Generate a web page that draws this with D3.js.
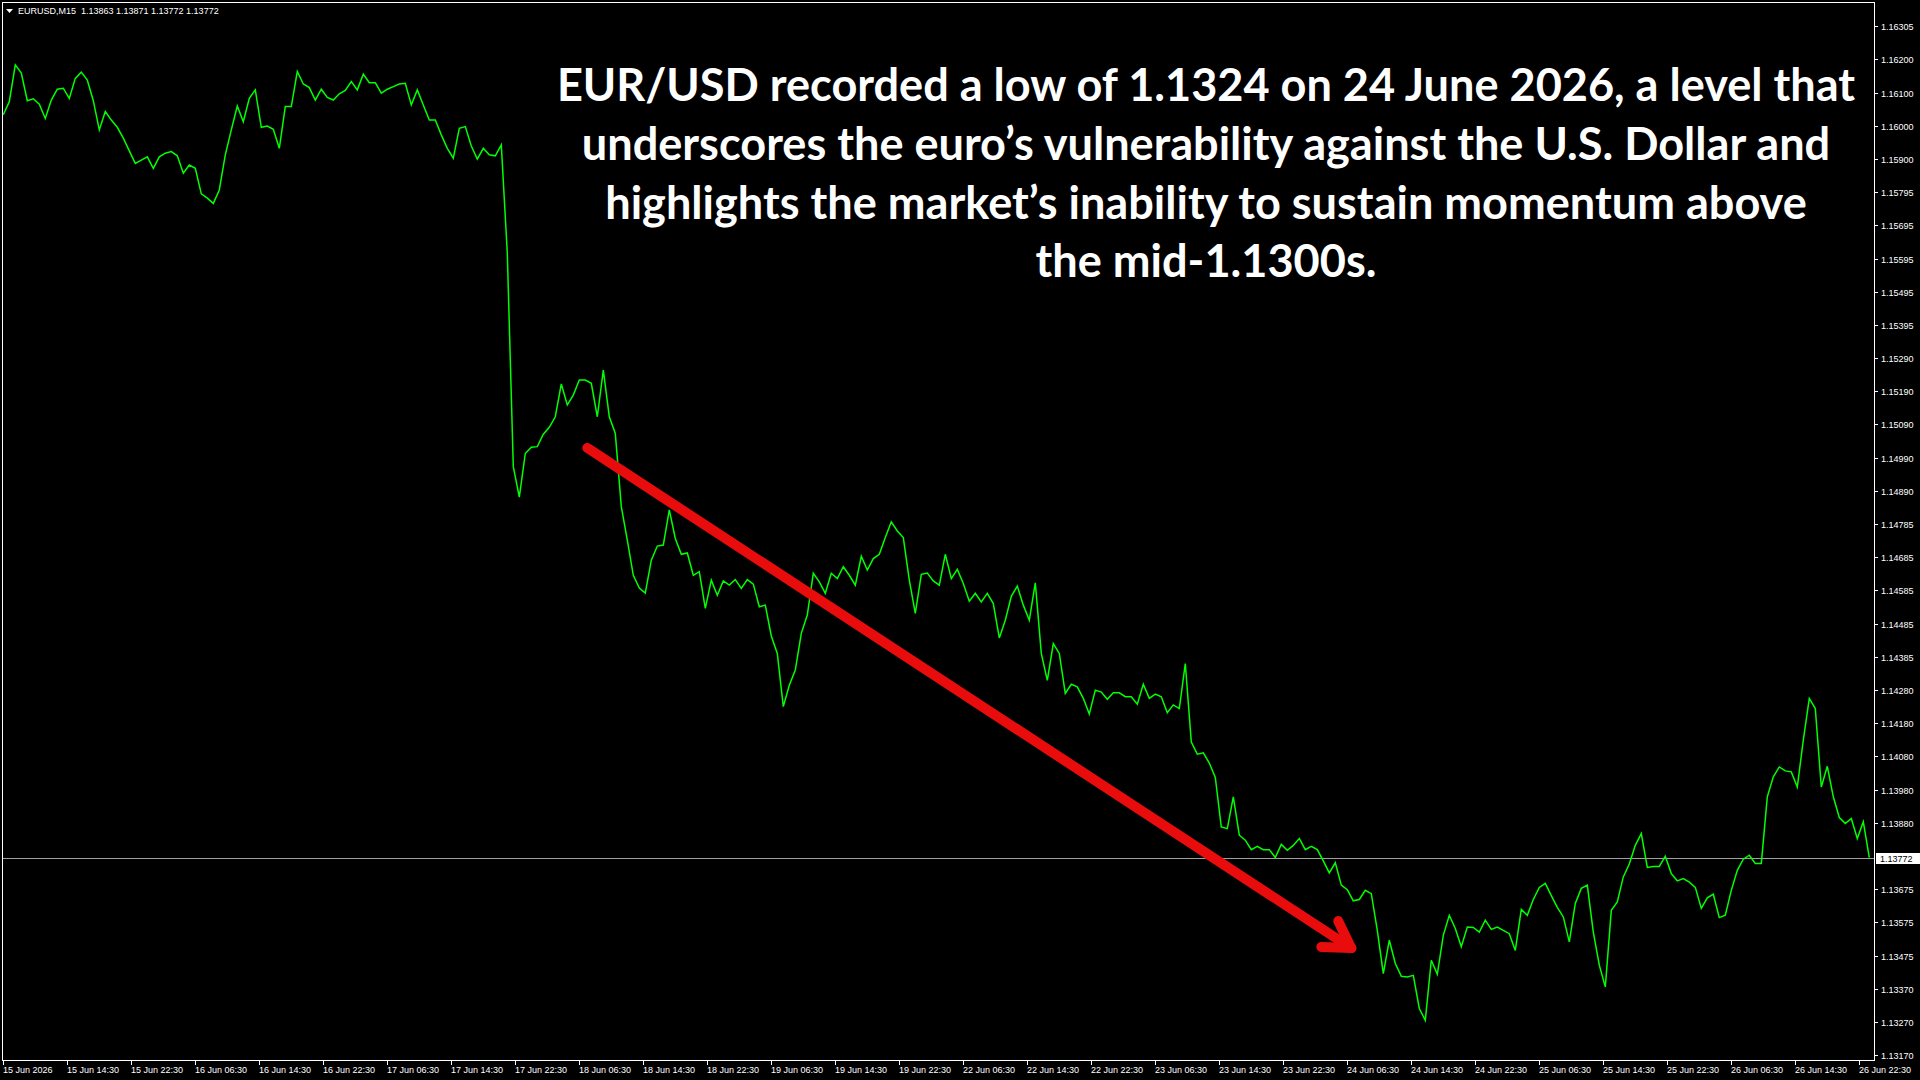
<!DOCTYPE html>
<html>
<head>
<meta charset="utf-8">
<script src="https://cdn.jsdelivr.net/npm/d3@7/dist/d3.min.js"></script>
<style>
  html, body { margin: 0; padding: 0; background: #000; }
  svg { display: block; }
</style>
</head>
<body>
<div id="chart"></div>
<script>
// ---- data ----
var symbolInfo = "EURUSD,M15  1.13863 1.13871 1.13772 1.13772";
var lastPrice = 1.13772;
var barsPerSample = 3;   // one close every 3 bars of M15
var barsPerLabel = 32;   // time label every 8 hours

var closes = [
  1.16035, 1.16075, 1.16187, 1.16162, 1.16078, 1.16084, 1.16067, 1.16024, 1.16080, 1.16113,
  1.16116, 1.16085, 1.16146, 1.16165, 1.16141, 1.16078, 1.15989, 1.16045, 1.16019, 1.15997,
  1.15964, 1.15925, 1.15887, 1.15897, 1.15907, 1.15872, 1.15907, 1.15918, 1.15923, 1.15910,
  1.15857, 1.15882, 1.15872, 1.15794, 1.15781, 1.15765, 1.15806, 1.15913, 1.15989, 1.16062,
  1.16014, 1.16085, 1.16111, 1.15997, 1.16001, 1.15991, 1.15933, 1.16060, 1.16060, 1.16167,
  1.16129, 1.16118, 1.16080, 1.16113, 1.16088,
  1.16080, 1.16099, 1.16109, 1.16136, 1.16111, 1.16159, 1.16133, 1.16133, 1.16101, 1.16113,
  1.16121, 1.16129, 1.16131, 1.16065, 1.16111, 1.16065, 1.16019, 1.16019, 1.15974, 1.15933,
  1.15903, 1.15994, 1.15999, 1.15940, 1.15900, 1.15933, 1.15913, 1.15910, 1.15943, 1.15613,
  1.14963, 1.14870, 1.15003, 1.15022, 1.15024, 1.15062, 1.15083, 1.15115, 1.15215, 1.15151,
  1.15181, 1.15227, 1.15227, 1.15217, 1.15115, 1.15257, 1.15115, 1.15064, 1.14841, 1.14739,
  1.14632, 1.14593, 1.14578,
  1.14678, 1.14721, 1.14724, 1.14831, 1.14744, 1.14696, 1.14700, 1.14632, 1.14643, 1.14531,
  1.14617, 1.14571, 1.14615, 1.14602, 1.14619, 1.14592, 1.14619, 1.14605, 1.14536, 1.14541,
  1.14447, 1.14394, 1.14232, 1.14297, 1.14343, 1.14455, 1.14511, 1.14638, 1.14612, 1.14577,
  1.14638, 1.14622, 1.14658, 1.14632, 1.14602, 1.14690, 1.14648, 1.14683, 1.14696, 1.14747,
  1.14795, 1.14767, 1.14747, 1.14617, 1.14516, 1.14635, 1.14639, 1.14615, 1.14602, 1.14696,
  1.14622, 1.14650, 1.14607, 1.14553,
  1.14577, 1.14551, 1.14577, 1.14546, 1.14441, 1.14495, 1.14568, 1.14599, 1.14541, 1.14495,
  1.14609, 1.14394, 1.14312, 1.14424, 1.14394, 1.14272, 1.14300, 1.14292, 1.14257, 1.14209,
  1.14282, 1.14276, 1.14254, 1.14274, 1.14274, 1.14262, 1.14262, 1.14239, 1.14300, 1.14257,
  1.14270, 1.14262, 1.14213, 1.14237, 1.14226, 1.14363, 1.14124, 1.14087, 1.14091, 1.14060,
  1.14016, 1.13865, 1.13860, 1.13957, 1.13840, 1.13825, 1.13796, 1.13806, 1.13796, 1.13796,
  1.13772, 1.13812, 1.13794,
  1.13809, 1.13830, 1.13796, 1.13806, 1.13796, 1.13762, 1.13725, 1.13756, 1.13688, 1.13674,
  1.13640, 1.13644, 1.13672, 1.13662, 1.13550, 1.13418, 1.13520, 1.13449, 1.13410, 1.13408,
  1.13413, 1.13312, 1.13276, 1.13459, 1.13416, 1.13535, 1.13596, 1.13556, 1.13500, 1.13560,
  1.13559, 1.13545, 1.13581, 1.13553, 1.13560, 1.13550, 1.13540, 1.13489, 1.13614, 1.13596,
  1.13644, 1.13681, 1.13693, 1.13656, 1.13620, 1.13591, 1.13515, 1.13632, 1.13678, 1.13688,
  1.13545, 1.13444, 1.13378,
  1.13611, 1.13637, 1.13713, 1.13752, 1.13809, 1.13845, 1.13742, 1.13745, 1.13745, 1.13776,
  1.13723, 1.13701, 1.13708, 1.13697, 1.13681, 1.13617, 1.13649, 1.13660, 1.13589, 1.13596,
  1.13672, 1.13733, 1.13767, 1.13779, 1.13754, 1.13754, 1.13957, 1.14018, 1.14048, 1.14036,
  1.14033, 1.13987, 1.14130, 1.14257, 1.14226, 1.13987, 1.14050, 1.13957, 1.13894, 1.13876,
  1.13891, 1.13830, 1.13881, 1.13772
];

var timeLabels = [
  "15 Jun 2026", "15 Jun 14:30", "15 Jun 22:30", "16 Jun 06:30", "16 Jun 14:30",
  "16 Jun 22:30", "17 Jun 06:30", "17 Jun 14:30", "17 Jun 22:30", "18 Jun 06:30",
  "18 Jun 14:30", "18 Jun 22:30", "19 Jun 06:30", "19 Jun 14:30", "19 Jun 22:30",
  "22 Jun 06:30", "22 Jun 14:30", "22 Jun 22:30", "23 Jun 06:30", "23 Jun 14:30",
  "23 Jun 22:30", "24 Jun 06:30", "24 Jun 14:30", "24 Jun 22:30", "25 Jun 06:30",
  "25 Jun 14:30", "25 Jun 22:30", "26 Jun 06:30", "26 Jun 14:30", "26 Jun 22:30"
];

// null = slot hidden behind the current price tag
var priceLabels = [
  "1.16305", "1.16200", "1.16100", "1.16000", "1.15900", "1.15795", "1.15695", "1.15595",
  "1.15495", "1.15395", "1.15290", "1.15190", "1.15090", "1.14990", "1.14890", "1.14785",
  "1.14685", "1.14585", "1.14485", "1.14385", "1.14280", "1.14180", "1.14080", "1.13980",
  "1.13880", null, "1.13675", "1.13575", "1.13475", "1.13370", "1.13270", "1.13170"
];
var priceTop = 1.16305;
var priceBottom = 1.13170;

var titleLines = [
  "EUR/USD recorded a low of 1.1324 on 24 June 2026, a level that",
  "underscores the euro\u2019s vulnerability against the U.S. Dollar and",
  "highlights the market\u2019s inability to sustain momentum above",
  "the mid-1.1300s."
];

// arrow annotation: [bar index, price]
var arrowStart = [292, 1.15020];
var arrowEnd = [674, 1.13496];

// ---- layout ----
var W = 1920, H = 1080;
var plot = { left: 2, top: 2, right: 1874, bottom: 1060 };

var svg = d3.select("#chart").append("svg")
  .attr("width", W)
  .attr("height", H)
  .style("background", "#000");

var x = d3.scaleLinear()
  .domain([0, (timeLabels.length - 1) * barsPerLabel])
  .range([3.3, 1859.3]);

var y = d3.scaleLinear()
  .domain([priceBottom, priceTop])
  .range([1055.1, 26.2]);

var axisFont = "'Liberation Sans', Arial, sans-serif";

// frame
svg.append("rect")
  .attr("x", plot.left + 0.5)
  .attr("y", plot.top + 0.5)
  .attr("width", plot.right - plot.left)
  .attr("height", plot.bottom - plot.top)
  .attr("fill", "none")
  .attr("stroke", "#fff")
  .attr("stroke-width", 1);

// price axis
var step = (priceTop - priceBottom) / (priceLabels.length - 1);
var priceTicks = priceLabels.map((lab, i) => ({ label: lab, value: priceTop - i * step }))
  .filter((d) => d.label !== null);

var yAxis = svg.append("g").attr("class", "y-axis");
yAxis.selectAll("line")
  .data(priceTicks)
  .enter()
  .append("line")
  .attr("x1", plot.right + 0.5)
  .attr("x2", plot.right + 4)
  .attr("y1", (d) => Math.round(y(d.value)) + 0.5)
  .attr("y2", (d) => Math.round(y(d.value)) + 0.5)
  .attr("stroke", "#fff");
yAxis.selectAll("text")
  .data(priceTicks)
  .enter()
  .append("text")
  .attr("x", plot.right + 7)
  .attr("y", (d) => Math.round(y(d.value)) + 3.5)
  .attr("fill", "#fff")
  .style("font-family", axisFont)
  .style("font-size", "9px")
  .text((d) => d.label);

// time axis
var xAxis = svg.append("g").attr("class", "x-axis");
xAxis.selectAll("line")
  .data(timeLabels)
  .enter()
  .append("line")
  .attr("x1", (d, i) => Math.round(x(i * barsPerLabel)) + 0.5)
  .attr("x2", (d, i) => Math.round(x(i * barsPerLabel)) + 0.5)
  .attr("y1", plot.bottom + 0.5)
  .attr("y2", plot.bottom + 5)
  .attr("stroke", "#fff");
xAxis.selectAll("text")
  .data(timeLabels)
  .enter()
  .append("text")
  .attr("x", (d, i) => Math.round(x(i * barsPerLabel)))
  .attr("y", plot.bottom + 13)
  .attr("fill", "#fff")
  .style("font-family", axisFont)
  .style("font-size", "9px")
  .text((d) => d);

// current price line + tag
var yLast = Math.round(y(lastPrice)) + 0.5;
svg.append("line")
  .attr("x1", plot.left + 1)
  .attr("x2", plot.right)
  .attr("y1", yLast)
  .attr("y2", yLast)
  .attr("stroke", "#a0a0a0")
  .attr("stroke-width", 1);

svg.append("rect")
  .attr("x", plot.right + 2)
  .attr("y", yLast - 5.5)
  .attr("width", 44)
  .attr("height", 11)
  .attr("fill", "#fff");
svg.append("text")
  .attr("x", plot.right + 6)
  .attr("y", yLast + 3.5)
  .attr("fill", "#000")
  .style("font-family", axisFont)
  .style("font-size", "9px")
  .text(d3.format(".5f")(lastPrice));

// close line
var line = d3.line()
  .x((d, i) => x(i * barsPerSample))
  .y((d) => y(d));

svg.append("path")
  .datum(closes)
  .attr("d", line)
  .attr("fill", "none")
  .attr("stroke", "#00ff00")
  .attr("stroke-width", 1.5)
  .attr("stroke-linejoin", "miter");

// header
svg.append("path")
  .attr("d", "M6,9 L13,9 L9.5,13 Z")
  .attr("fill", "#fff");
svg.append("text")
  .attr("x", 18)
  .attr("y", 14)
  .attr("fill", "#fff")
  .attr("xml:space", "preserve")
  .style("white-space", "pre")
  .style("font-family", axisFont)
  .style("font-size", "9px")
  .text(symbolInfo);

// arrow
var red = "#e80c0c";
var ax0 = x(arrowStart[0]), ay0 = y(arrowStart[1]);
var ax1 = x(arrowEnd[0]), ay1 = y(arrowEnd[1]);
var ang = Math.atan2(ay1 - ay0, ax1 - ax0);
var headLen = 30, headAng = 31 * Math.PI / 180;
var arrow = svg.append("g")
  .attr("stroke", red)
  .attr("stroke-width", 10)
  .attr("stroke-linecap", "round")
  .attr("fill", "none");
arrow.append("line")
  .attr("x1", ax0).attr("y1", ay0)
  .attr("x2", ax1).attr("y2", ay1);
[-1, 1].forEach((s) => {
  var a = ang + Math.PI + s * headAng;
  arrow.append("line")
    .attr("x1", ax1).attr("y1", ay1)
    .attr("x2", ax1 + headLen * Math.cos(a))
    .attr("y2", ay1 + headLen * Math.sin(a));
});

// title text, sized so the four lines together span the same width as the original
var title = svg.append("g")
  .attr("fill", "#fff")
  .style("font-family", "Lato, 'Open Sans', sans-serif")
  .style("font-weight", 700)
  .attr("text-anchor", "middle");

var probeWidth = 0;
titleLines.forEach((t) => {
  var p = title.append("text").style("font-size", "50px").text(t);
  probeWidth += p.node().getComputedTextLength();
  p.remove();
});
var fs = 50 * 4090 / probeWidth;

var baselines = [101, 160, 218.5, 277];
title.selectAll("text")
  .data(titleLines)
  .enter()
  .append("text")
  .attr("x", 1206)
  .attr("y", (d, i) => baselines[i])
  .style("font-size", fs + "px")
  .text((d) => d);
</script>
</body>
</html>
